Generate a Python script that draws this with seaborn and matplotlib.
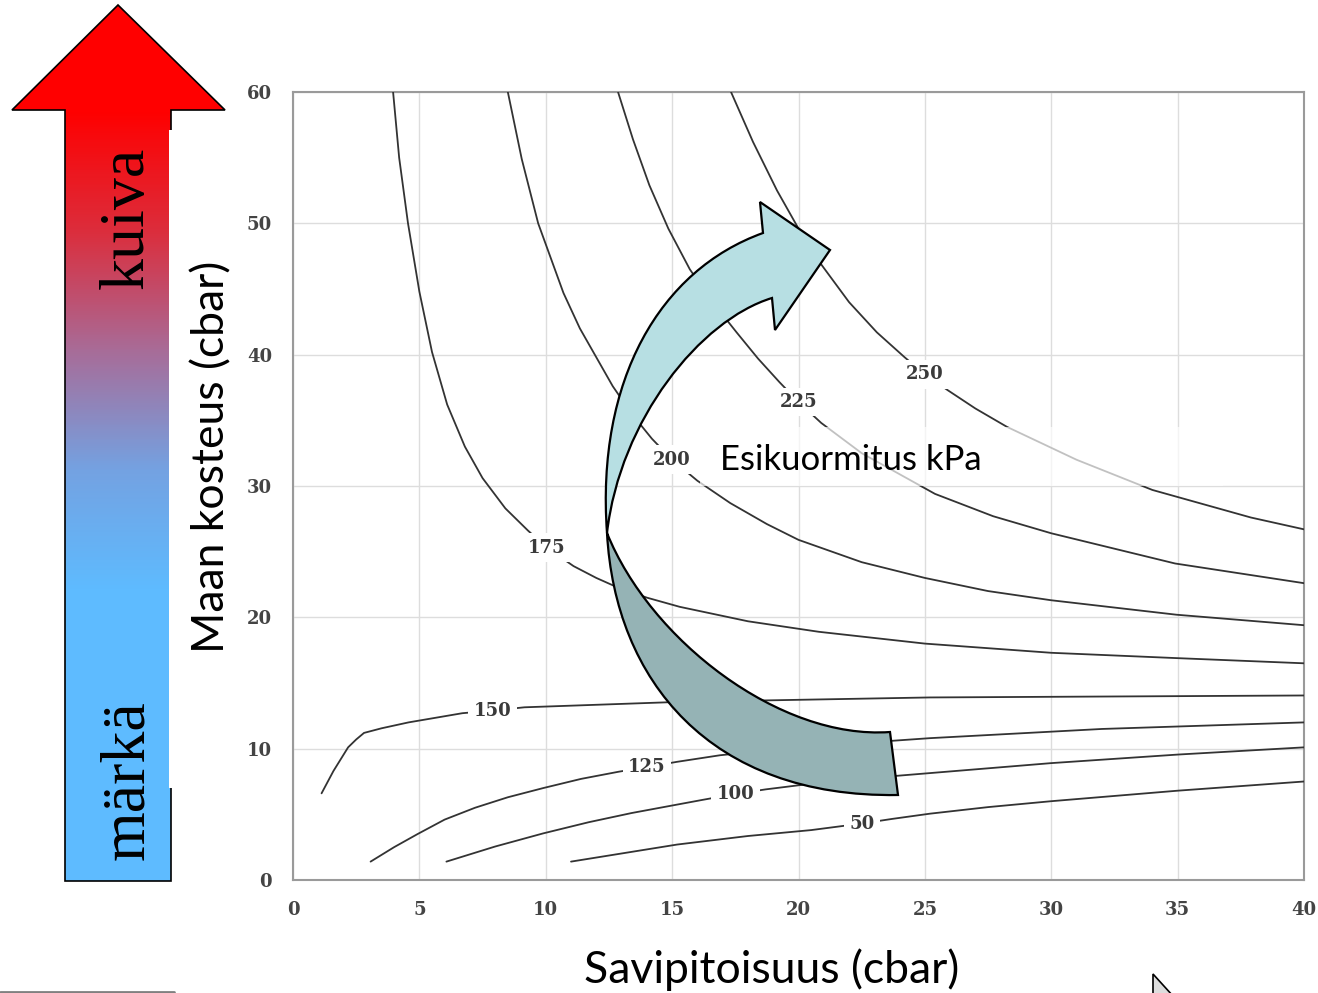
import numpy as np
import pandas as pd
import matplotlib
matplotlib.use('Agg')
import matplotlib.pyplot as plt
import seaborn as sns
from matplotlib.path import Path
from matplotlib.patches import PathPatch, Polygon, Rectangle
from matplotlib.colors import LinearSegmentedColormap

W, H = 1318, 993

# preload curves (kPa): clay content (x) vs soil moisture (y)
x_50 = [11.0, 13.1, 15.2, 18.0, 20.5, 22.5, 23.7, 25.2, 27.5, 30.0, 35.0, 40.0]
y_50 = [1.4, 2.05, 2.7, 3.35, 3.8, 4.3, 4.65, 5.05, 5.55, 6.0, 6.8, 7.5]

x_100 = [6.07, 8.0, 9.9, 11.7, 13.4, 16.2, 17.5, 18.7, 21.0, 24.0, 30.0, 35.0, 40.0]
y_100 = [1.4, 2.55, 3.55, 4.4, 5.1, 6.1, 6.55, 6.9, 7.45, 7.95, 8.9, 9.55, 10.1]

x_125 = [3.07, 4.0, 4.93, 6.0, 7.2, 8.5, 9.9, 11.4, 12.9, 14.0, 15.2, 16.9, 20.0, 25.2, 32.0, 40.0]
y_125 = [1.4, 2.5, 3.5, 4.6, 5.5, 6.3, 7.0, 7.7, 8.25, 8.6, 9.0, 9.5, 10.1, 10.8, 11.5, 12.0]

x_150 = [1.13, 1.6, 2.18, 2.5, 2.81, 3.5, 4.57, 6.7, 7.9, 9.16, 15.1, 25.2, 40.0]
y_150 = [6.6, 8.3, 10.1, 10.7, 11.2, 11.55, 12.0, 12.7, 12.9, 13.15, 13.55, 13.9, 14.05]

x_175 = [3.96, 4.2, 4.55, 5.0, 5.5, 6.1, 6.8, 7.5, 8.4, 9.3, 10.05, 11.1, 12.0, 12.7,
         14.0, 15.3, 18.0, 20.8, 25.0, 30.0, 34.9, 40.0]
y_175 = [60, 55, 50, 44.8, 40.2, 36.2, 33.0, 30.6, 28.3, 26.6, 25.3, 23.9, 23.0, 22.4,
         21.5, 20.8, 19.7, 18.9, 18.0, 17.3, 16.9, 16.5]

x_200 = [8.5, 9.05, 9.7, 10.7, 11.35, 12.0, 12.65, 13.4, 14.2, 15.0, 16.0, 17.3, 18.75,
         20.0, 22.5, 25.0, 27.5, 30.0, 34.95, 40.0]
y_200 = [60, 54.9, 50, 44.7, 42.0, 39.8, 37.6, 35.5, 33.6, 32.0, 30.4, 28.7, 27.1,
         25.9, 24.2, 23.0, 22.0, 21.3, 20.2, 19.4]

x_225 = [12.86, 13.45, 14.1, 14.85, 15.7, 16.6, 17.55, 18.4, 19.25, 20.0, 20.9, 22.5,
         25.4, 27.7, 30.0, 34.9, 40.0]
y_225 = [60, 56.4, 52.9, 49.6, 46.5, 44.0, 41.7, 39.7, 37.9, 36.4, 34.8, 32.5,
         29.4, 27.7, 26.4, 24.1, 22.6]

x_250 = [17.33, 18.2, 19.15, 20.0, 20.85, 22.0, 23.1, 24.2, 25.0, 25.9, 27.0, 28.25,
         31.0, 34.0, 37.9, 40.0]
y_250 = [60, 56.2, 52.5, 49.6, 47.0, 44.0, 41.7, 39.8, 38.5, 37.3, 35.9, 34.5,
         32.0, 29.7, 27.6, 26.7]

loads = [50, 100, 125, 150, 175, 200, 225, 250]
curve_x = [x_50, x_100, x_125, x_150, x_175, x_200, x_225, x_250]
curve_y = [y_50, y_100, y_125, y_150, y_175, y_200, y_225, y_250]
label_x = [22.5, 17.5, 14.0, 7.9, 10.05, 15.0, 20.0, 25.0]

x_ticks = [0, 5, 10, 15, 20, 25, 30, 35, 40]
y_ticks = [0, 10, 20, 30, 40, 50, 60]

sns.set_style('white')
plt.rcParams['font.family'] = ['DejaVu Sans']

fig = plt.figure(figsize=(W / 100, H / 100), dpi=100)
ax = fig.add_axes([293 / W, 1 - 880 / H, (1304 - 293) / W, (880 - 92) / H])

frames = []
for load, xs, ys in zip(loads, curve_x, curve_y):
    frames.append(pd.DataFrame({'clay': xs, 'moist': ys, 'load': load}))
df = pd.concat(frames, ignore_index=True)

sns.lineplot(data=df, x='clay', y='moist', units='load', estimator=None,
             sort=False, color='#333333', lw=1.3, ax=ax, zorder=3)

# inline curve labels
for load, xs, ys, lx in zip(loads, curve_x, curve_y, label_x):
    ly = np.interp(lx, xs, ys)
    ax.text(lx, ly, str(load), ha='center', va='center', fontsize=13,
            family='DejaVu Serif', weight='bold', color='#3a3a3a', zorder=5,
            bbox=dict(boxstyle='square,pad=0.3', fc='white', ec='none'))

ax.set_xlim(0, 40)
ax.set_ylim(0, 60)
ax.set_xticks(x_ticks)
ax.set_yticks(y_ticks)
ax.set_xlabel('')
ax.set_ylabel('')
ax.grid(True, color='#dddddd', lw=1)
ax.set_axisbelow(True)
for sp in ax.spines.values():
    sp.set_visible(True)
    sp.set_color('#9a9a9a')
    sp.set_linewidth(1.5)
ax.tick_params(direction='out', length=6, width=1.2, color='#9a9a9a', pad=9,
               labelsize=13, labelcolor='#444444')
for lab in ax.get_xticklabels() + ax.get_yticklabels():
    lab.set_family('DejaVu Serif')
    lab.set_weight('bold')

# overlay in pixel coordinates for the slide decorations
ov = fig.add_axes([0, 0, 1, 1], zorder=10)
ov.axis('off')

# big gradient arrow on the left
arrow_verts = [(12, 110), (118, 5), (225, 110), (171, 110), (171, 881), (65, 881), (65, 110)]
arrow = Polygon(arrow_verts, closed=True, fc='none', ec='black', lw=1.2, zorder=2)
ov.add_patch(arrow)
cmap = LinearSegmentedColormap.from_list(
    'drywet', ['#ff0000', '#dc2d3c', '#a86c98', '#74a2e2', '#5ebbff'])
rows = np.arange(5, 882)
grad = np.clip((rows - 110) / (590 - 110), 0, 1).reshape(-1, 1)
im = ov.imshow(grad, cmap=cmap, vmin=0, vmax=1, extent=(12, 225, 882, 5),
               aspect='auto', zorder=1)
im.set_clip_path(arrow)
ov.add_patch(Rectangle((169, 130), 12, 658, fc='white', ec='none', zorder=3))

ov.text(143, 218, 'kuiva', rotation=90, rotation_mode='anchor', ha='center',
        va='baseline', fontsize=46, family='Liberation Serif', color='black', zorder=4)
ov.text(143, 780, 'märkä', rotation=90, rotation_mode='anchor', ha='center',
        va='baseline', fontsize=46, family='Liberation Serif', color='black', zorder=4)

ov.text(224, 457, 'Maan kosteus (cbar)', rotation=90, rotation_mode='anchor',
        ha='center', va='baseline', fontsize=32, family='Lato', color='black')
ov.text(772, 983, 'Savipitoisuus (cbar)', ha='center', va='baseline',
        fontsize=32, family='Lato', color='black')

ov.add_patch(Rectangle((700, 427), 523, 59, fc='white', ec='none', alpha=0.7, zorder=1))
ov.text(720, 470, 'Esikuormitus kPa', ha='left', va='baseline', fontsize=25,
        family='Lato', color='black', zorder=4)

# curved arrow: light front part and darker back part
up_verts = [(607, 533), (596, 380), (660, 270), (763, 233), (760, 202), (830, 250),
            (775, 330), (772, 298), (700, 320), (620, 420), (607, 533), (607, 533)]
up_codes = [Path.MOVETO, Path.CURVE4, Path.CURVE4, Path.CURVE4, Path.LINETO, Path.LINETO,
            Path.LINETO, Path.LINETO, Path.CURVE4, Path.CURVE4, Path.CURVE4, Path.CLOSEPOLY]
ov.add_patch(PathPatch(Path(up_verts, up_codes), fc='#b7dfe3', ec='black', lw=1.6, zorder=6))

lo_verts = [(607, 533), (615, 680), (710, 798), (898, 795), (890, 732),
            (780, 740), (650, 640), (607, 533), (607, 533)]
lo_codes = [Path.MOVETO, Path.CURVE4, Path.CURVE4, Path.CURVE4, Path.LINETO,
            Path.CURVE4, Path.CURVE4, Path.CURVE4, Path.CLOSEPOLY]
ov.add_patch(PathPatch(Path(lo_verts, lo_codes), fc='#95b3b5', ec='black', lw=1.6, zorder=6))

# small leftovers at the slide edges
ov.plot([0, 174], [992, 992], color='#808080', lw=2)
ov.add_patch(Polygon([(1153, 974), (1153, 996), (1173, 996)], closed=True,
                     fc='#dddddd', ec='black', lw=1.2))

ov.set_xlim(0, W)
ov.set_ylim(H, 0)

fig.savefig('out.png', dpi=100)
